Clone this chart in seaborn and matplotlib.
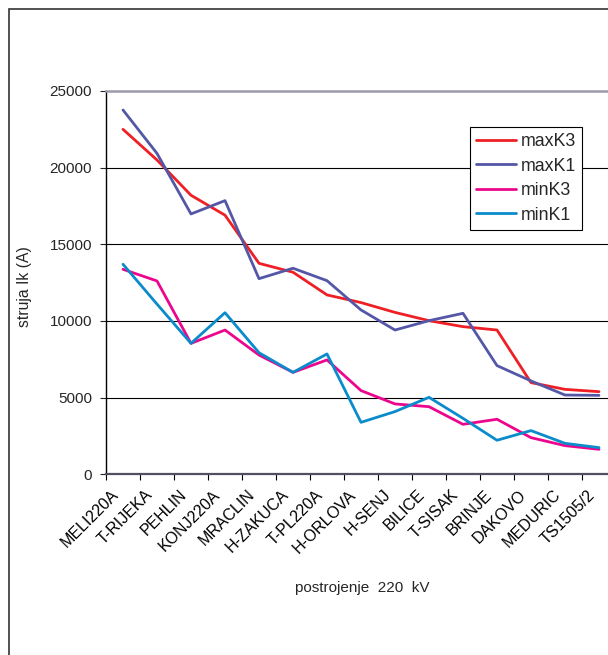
import numpy as np
import pandas as pd
import matplotlib
matplotlib.use("Agg")
import matplotlib.pyplot as plt
import matplotlib.transforms as mtransforms
from matplotlib.patches import Rectangle
import seaborn as sns

categories = ["MELI220A", "T-RIJEKA", "PEHLIN", "KONJ220A", "MRACLIN", "H-ZAKUCA",
              "T-PL220A", "H-ORLOVA", "H-SENJ", "BILICE", "T-SISAK", "BRINJE",
              "DAKOVO", "MEDURIC", "TS1505/2"]
maxK3 = [22500, 20500, 18200, 16900, 13760, 13180, 11700, 11200, 10560, 10020, 9630, 9410, 5980, 5540, 5390]
maxK1 = [23760, 20930, 16980, 17850, 12760, 13440, 12630, 10720, 9410, 10020, 10500, 7090, 6090, 5170, 5150]
minK3 = [13370, 12610, 8540, 9410, 7780, 6650, 7460, 5460, 4590, 4410, 3260, 3590, 2390, 1870, 1630]
minK1 = [13700, 11100, 8540, 10540, 7930, 6650, 7850, 3390, 4090, 5020, 3650, 2220, 2850, 2020, 1740]
series_names = ["maxK3", "maxK1", "minK3", "minK1"]
colors = ["#EE2026", "#5457A6", "#EC068D", "#0A8BCB"]

pos = np.arange(len(categories))
df = pd.concat([
    pd.DataFrame({"pos": pos, "val": vals, "serija": name})
    for name, vals in zip(series_names, [maxK3, maxK1, minK3, minK1])
])

sns.set_style("white")
plt.rcParams["font.family"] = ["Liberation Sans", "DejaVu Sans"]
plt.rcParams["font.size"] = 11

W, H = 608, 655
fig = plt.figure(figsize=(W / 100, H / 100), dpi=100)
ax = fig.add_axes([106 / W, 1 - 474.3 / H, 510 / W, 383.3 / H])

sns.lineplot(data=df, x="pos", y="val", hue="serija", palette=colors,
             hue_order=series_names, linewidth=2.0, ax=ax, sort=False)

ax.set_xlim(-0.5, 14.5)
ax.set_ylim(0, 25000)
ax.set_yticks(np.arange(0, 25001, 5000))
ax.set_yticklabels([str(v) for v in range(0, 25001, 5000)])
for v in range(5000, 25000, 5000):
    ax.axhline(v, color="black", lw=0.8, zorder=0)

ax.set_xticks(pos)
ax.set_xticklabels(categories, rotation=45, ha="right", va="center", rotation_mode="anchor")
ax.set_xticks(np.arange(-0.5, 15, 1), minor=True)
ax.tick_params(axis="x", which="major", length=0, pad=13, labelsize=11.5, colors="black")
ax.tick_params(axis="x", which="minor", length=4, width=0.8, direction="out", color="black", bottom=True)
ax.tick_params(axis="y", which="major", length=4, width=0.8, direction="out", left=True, pad=6, labelsize=11)
off = mtransforms.ScaledTranslation(-7 / 100, 0, fig.dpi_scale_trans)
for lbl in ax.get_xticklabels():
    lbl.set_transform(lbl.get_transform() + off)

ax.spines["top"].set_color("#9A9AAA")
ax.spines["top"].set_linewidth(1.8)
ax.spines["right"].set_visible(False)
ax.spines["left"].set_color("black")
ax.spines["left"].set_linewidth(1.0)
ax.spines["bottom"].set_color("#505060")
ax.spines["bottom"].set_linewidth(1.6)

ax.set_ylabel("struja Ik (A)", fontsize=11.3)
ax.yaxis.set_label_coords(-74 / 510, 0.49)
ax.set_xlabel("")
fig.text(362 / W, 1 - 588 / H, "postrojenje  220  kV", ha="center", va="center", fontsize=11)

leg = ax.legend(loc="upper left", bbox_to_anchor=((470 - 106) / 510, (474.3 - 127) / 383.3),
                frameon=True, fancybox=False, framealpha=1, edgecolor="black",
                fontsize=12.8, handlelength=2.25, handletextpad=0.25, labelspacing=0.42,
                borderpad=0.35, borderaxespad=0)
leg.get_frame().set_linewidth(0.8)
for h in leg.get_lines():
    h.set_linewidth(2.0)

fig.patches.append(Rectangle((8.5 / W, -0.1), 1.2, 1 - 8.5 / H + 0.1, transform=fig.transFigure,
                             fill=False, edgecolor="#333333", lw=1.2))

fig.savefig("out.png", dpi=100)
